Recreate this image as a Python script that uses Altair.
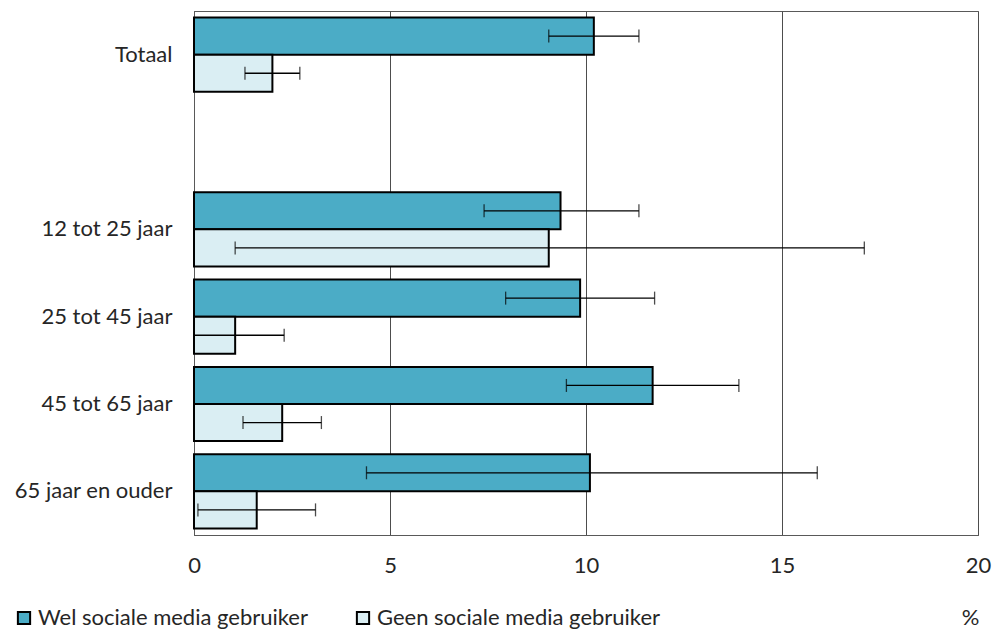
import altair as alt
import pandas as pd

# Categories (empty slot separates the total from the age groups)
categories = ["Totaal", "", "12 tot 25 jaar", "25 tot 45 jaar", "45 tot 65 jaar", "65 jaar en ouder"]
groups = ["Totaal", "12 tot 25 jaar", "25 tot 45 jaar", "45 tot 65 jaar", "65 jaar en ouder"]
series = ["Wel sociale media gebruiker", "Geen sociale media gebruiker"]

wel_values = [10.2, 9.35, 9.85, 11.7, 10.1]
wel_low = [9.05, 7.4, 7.95, 9.5, 4.4]
wel_high = [11.35, 11.35, 11.75, 13.9, 15.9]

geen_values = [2.0, 9.05, 1.05, 2.25, 1.6]
geen_low = [1.3, 1.05, 0.0, 1.25, 0.1]
geen_high = [2.7, 17.1, 2.3, 3.25, 3.1]

colors = ["#4BACC6", "#DAEEF3"]
FONT = "Lato"
TEXT = "#262626"
FS = 22

rows = []
for i, g in enumerate(groups):
    rows.append({"cat": g, "series": series[0], "value": wel_values[i], "lo": wel_low[i], "hi": wel_high[i]})
    rows.append({"cat": g, "series": series[1], "value": geen_values[i], "lo": geen_low[i], "hi": geen_high[i]})
df = pd.DataFrame(rows)

y_enc = alt.Y(
    "cat:N",
    scale=alt.Scale(domain=categories, paddingInner=0.15, paddingOuter=0.075),
    axis=alt.Axis(title=None, ticks=False, tickSize=0, labelPadding=22, labelFontSize=FS,
                  labelFont=FONT, labelColor=TEXT, domainColor="#595959", labelLimit=300),
)
yoff_enc = alt.YOffset("series:N", scale=alt.Scale(domain=series, paddingInner=0, paddingOuter=0))
x_scale = alt.Scale(domain=[0, 20], nice=False)

base = alt.Chart(df)

bars = base.mark_bar(stroke="black", strokeWidth=2).encode(
    x=alt.X(
        "value:Q",
        scale=x_scale,
        axis=alt.Axis(
            title="%", values=[0, 5, 10, 15, 20], ticks=False, tickSize=0, labelPadding=20,
            labelFlush=False, labelFontSize=FS, labelFont=FONT, labelColor=TEXT,
            grid=True, gridColor="#4d4d4d", gridWidth=1, domainColor="#595959",
            titleX=776, titleY=82, titleBaseline="middle", titleAlign="center",
            titleFont=FONT, titleFontSize=FS, titleFontWeight="normal", titleColor=TEXT,
        ),
    ),
    y=y_enc,
    yOffset=yoff_enc,
    fill=alt.Fill(
        "series:N",
        scale=alt.Scale(domain=series, range=colors),
        legend=alt.Legend(
            title=None, orient="none", legendX=-181, legendY=596, direction="horizontal",
            symbolType="square", symbolSize=150, symbolStrokeColor="black", symbolStrokeWidth=2,
            labelFont=FONT, labelFontSize=FS, labelColor=TEXT, labelOffset=3,
            columnPadding=44, labelLimit=400,
        ),
    ),
)

err = base.mark_rule(color="black", strokeWidth=1.3).encode(
    x=alt.X("lo:Q", scale=x_scale), x2="hi:Q", y=y_enc, yOffset=yoff_enc
)
cap_lo = base.mark_tick(color="black", thickness=1.3, size=13).encode(
    x=alt.X("lo:Q", scale=x_scale), y=y_enc, yOffset=yoff_enc
)
cap_hi = base.mark_tick(color="black", thickness=1.3, size=13).encode(
    x=alt.X("hi:Q", scale=x_scale), y=y_enc, yOffset=yoff_enc
)

chart = (
    alt.layer(bars, err, cap_lo, cap_hi)
    .properties(
        width=784, height=524,
        autosize=alt.AutoSizeParams(type="none"),
        padding={"left": 194, "top": 11, "right": 15, "bottom": 94},
        background="white",
    )
    .configure_view(stroke="#595959", strokeWidth=1)
)

chart.save("out.html", embed_options={"renderer": "svg", "actions": False})
